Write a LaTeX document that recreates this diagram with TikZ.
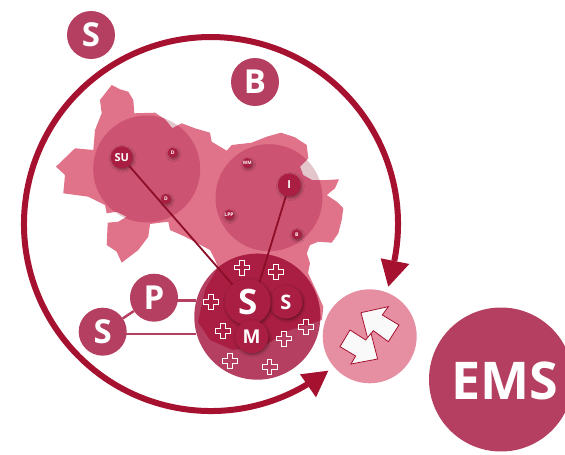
\documentclass[tikz,border=0pt]{standalone}
\usepackage{fontspec}
\setmainfont{Open Sans}
\usetikzlibrary{shadows.blur}
\definecolor{crim}{HTML}{A5112F}
\definecolor{hub}{HTML}{A91E42}
\definecolor{disc}{HTML}{B53F60}
\definecolor{mapc}{HTML}{E0728A}
\definecolor{zone}{HTML}{CC5371}
\definecolor{light}{HTML}{E78FA2}
\definecolor{greyp}{HTML}{E3C5CC}
\tikzset{
 x=1pt,y=-1pt,
 bigdot/.style={circle,fill=disc,text=white,minimum size=48pt,inner sep=0pt,font=\bfseries\fontsize{33}{33}\selectfont},
 citedot/.style={circle,fill=hub,text=white,inner sep=0pt,font=\bfseries,blur shadow={shadow blur steps=6,shadow xshift=1pt,shadow yshift=-1.5pt,shadow blur radius=2.5pt}},
 link/.style={line width=1.8pt,draw=crim!85!black},
 tie/.style={line width=2.5pt,draw=disc},
 ring/.style={line width=6pt,draw=crim},
 plusmark/.style={draw=white,line width=.5pt,fill=none},
 swap/.style={fill=white!95!gray,draw=crim,line width=.8pt,line join=miter},
}
\newcommand{\mapshape}{(111.7,85) (120,89.3) (128.3,91.7) (133.3,100) (134.3,113.3) (155,112.7) (165,119.3) (172.3,128.3) (181.7,123.3) (195,128.3) (210,132.7) (211.7,141.7) (226.7,150.7) (231.7,145) (251.7,142.7) (266.7,136.7) (281,132.7) (295,137.3) (306.7,145) (308.3,158.3) (300,166.7) (303,175) (311.7,180) (326.7,180) (339,179.3) (335,188.3) (326.7,195) (336.7,201.7) (343.3,208.3) (341.7,220) (338.3,233.3) (331.7,242.7) (318.3,241.7) (310,245) (306.7,253.3) (310,263.3) (308,273) (316.7,291.7) (323.3,306.7) (322,320) (290,330) (265,345) (233,350) (210,340) (198,322) (205,290) (218,267) (215,260) (210,250) (197,243) (185,236.7) (170,230) (168.3,221.7) (150,224) (148.3,236.7) (138.3,250) (121.7,262.7) (116.7,251.7) (106.7,245) (107.7,222.7) (118.3,221.7) (126.7,216.7) (116.7,211.7) (106.7,213.3) (105,205) (88.3,196.7) (63.3,193.3) (65,175) (56,166.7) (75,148.3) (93.3,150) (95,130) (101.7,113.3) (100,100)}
\newcommand{\plusat}[2]{\draw[plusmark,shift={(#1,#2)}] (-2.4,-7.5) -- (2.4,-7.5) -- (2.4,-2.4) -- (7.5,-2.4) -- (7.5,2.4) -- (2.4,2.4) -- (2.4,7.5) -- (-2.4,7.5) -- (-2.4,2.4) -- (-7.5,2.4) -- (-7.5,-2.4) -- (-2.4,-2.4) -- cycle;}
\begin{document}
\begin{tikzpicture}
\useasboundingbox (0,0) rectangle (565,455);
\clip (0,0) rectangle (565,455);
% map and the two zones
\fill[greyp] (146.7,169) circle[radius=53.5];
\fill[greyp] (269,197.7) circle[radius=53.5];
\fill[mapc] plot coordinates {\mapshape} -- cycle;
\begin{scope}
 \clip plot coordinates {\mapshape} -- cycle;
 \fill[zone] (146.7,169) circle[radius=53.5];
 \fill[zone] (269,197.7) circle[radius=53.5];
\end{scope}
% ring
\draw[ring] (394.3,261) arc[start angle=11.4,end angle=-301,radius=187];
\fill[crim] (388.3,286.7) -- (380.7,258.3) -- (409.3,264) -- cycle;
\fill[crim] (328.3,370.7) -- (300,374.3) -- (316,397.3) -- cycle;
% hub disc
\node[circle,fill=disc,minimum size=126pt,inner sep=0pt] (hub) at (257.3,316.7) {};
\begin{scope}
 \clip (257.3,316.7) circle[radius=63];
 \fill[hub] plot coordinates {\mapshape} -- cycle;
\end{scope}
% outer nodes
\node[bigdot] (sTop) at (91,35) {S};
\node[bigdot] (bNode) at (255,82) {B};
\node[bigdot] (pNode) at (154,297.7) {P};
\node[bigdot] (sLeft) at (102.7,331.7) {S};
\coordinate (hubP) at (196,300.5);
\coordinate (hubS) at (196,334);
\coordinate (pEast) at (176,300.5);
\coordinate (sEast) at (125,334);
\draw[tie] (sLeft) -- (pNode);
\draw[tie] (pEast) -- (hubP);
\draw[tie] (sEast) -- (hubS);
% pluses
\plusat{241.7}{267.3}\plusat{275.7}{271.7}\plusat{211}{301.7}\plusat{223}{330.7}
\plusat{305.7}{327}\plusat{284}{338.3}\plusat{229.7}{361}\plusat{269.3}{367}
% city nodes
\node[citedot,minimum size=22pt,font=\bfseries\fontsize{11}{11}\selectfont] (su) at (121.7,157.3) {SU};
\node[citedot,minimum size=23pt,font=\bfseries\fontsize{11}{11}\selectfont] (iN) at (289.3,185) {I};
\node[citedot,minimum size=10pt,font=\bfseries\fontsize{5}{5}\selectfont] (d1) at (172.7,152.7) {D};
\node[citedot,minimum size=10pt,font=\bfseries\fontsize{5}{5}\selectfont] (d2) at (166,199) {D};
\node[citedot,minimum size=10pt,font=\bfseries\fontsize{4.6}{5}\selectfont] (wm) at (247.3,163) {WM};
\node[citedot,minimum size=10pt,font=\bfseries\fontsize{5}{5}\selectfont] (lpp) at (229,214.7) {LPP};
\node[citedot,minimum size=10pt,font=\bfseries\fontsize{5}{5}\selectfont] (bs) at (296.7,234.3) {B};
\coordinate (sBig) at (247.7,302);
\coordinate (linkI) at (254,300);
\draw[link] (su) -- (sBig);
\draw[link] (iN) -- (linkI);
\node[citedot,minimum size=33pt,font=\bfseries\fontsize{20}{20}\selectfont] (sSmall) at (286,302) {S};
\node[citedot,minimum size=46pt,font=\bfseries\fontsize{35}{35}\selectfont] (sMain) at (sBig) {S};
\node[citedot,minimum size=33pt,font=\bfseries\fontsize{19}{19}\selectfont] (mNode) at (251.7,336.7) {M};
% exchange disc
\node[circle,fill=light,minimum size=94pt,inner sep=0pt] (ex) at (369.7,336.3) {};
\begin{scope}[shift={(325,290)},x=.3333pt,y=-.3333pt]
\draw[swap] (108,68) -- (190,50) -- (172,75) -- (222,105) -- (190,155) -- (145,122) -- (128,145) -- cycle;
\draw[swap] (158,207) -- (78,222) -- (92,198) -- (45,170) -- (75,120) -- (122,150) -- (138,130) -- cycle;
\end{scope}
% EMS
\node[circle,fill=disc,minimum size=144pt,inner sep=0pt] (ems) at (501,379.5) {};
\node[text=white,inner sep=0pt,font=\bfseries\fontsize{52}{52}\selectfont] (emsText) at (504.5,381) {EMS};
\end{tikzpicture}
\end{document}
